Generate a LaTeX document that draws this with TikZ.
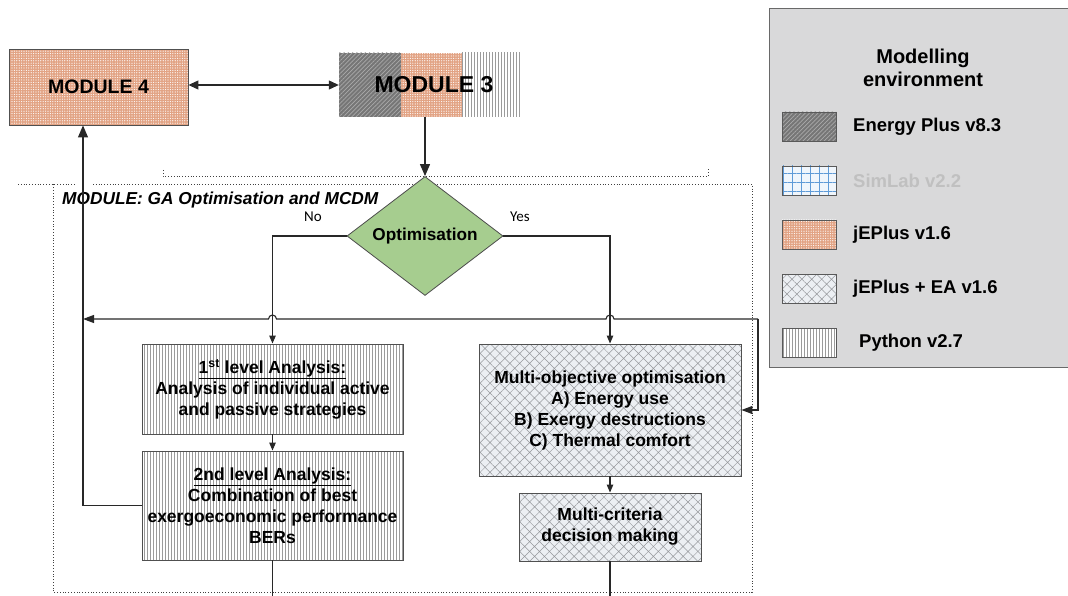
\documentclass[tikz,border=0pt]{standalone}
\usepackage{fontspec}
\setmainfont{Liberation Sans}
\newfontfamily\calibrifont{Carlito}
\usetikzlibrary{shapes.geometric,arrows.meta,patterns.meta,calc}
\definecolor{salmonc}{RGB}{226,163,132}
\definecolor{epc}{RGB}{118,118,118}
\definecolor{eplc}{RGB}{170,170,170}
\definecolor{pyc}{RGB}{155,155,155}
\definecolor{eac}{RGB}{236,239,243}
\definecolor{eal}{RGB}{150,152,156}
\definecolor{slc}{RGB}{240,246,252}
\definecolor{sll}{RGB}{95,155,215}
\definecolor{legbg}{RGB}{217,217,218}
\definecolor{legborder}{RGB}{105,105,105}
\definecolor{optgreen}{RGB}{166,205,143}
\definecolor{boxborder}{RGB}{80,80,80}
\definecolor{connc}{RGB}{40,40,40}
\definecolor{simlabtxt}{RGB}{192,192,192}
\begin{document}
\begin{tikzpicture}[x=1pt,y=-1pt,
  salmonfill/.style={preaction={fill=salmonc}, pattern={Dots[radius=0.6pt,distance=2.4pt]}, pattern color=white},
  epfill/.style={preaction={fill=epc}, pattern={Lines[angle=45,distance=3pt,line width=0.7pt]}, pattern color=eplc},
  pyfill/.style={preaction={fill=white}, pattern={Lines[angle=90,distance=3pt,line width=0.45pt]}, pattern color=pyc},
  eafill/.style={preaction={fill=eac}, pattern={Hatch[angle=45,distance=7pt,line width=0.5pt]}, pattern color=eal},
  slfill/.style={preaction={fill=slc}, pattern={Hatch[angle=0,distance=9pt,line width=0.6pt]}, pattern color=sll},
  box/.style={draw=boxborder, line width=0.9pt, inner sep=0pt, align=center, font=\bfseries\fontsize{17.5}{21}\selectfont},
  swatch/.style={draw=black!65, line width=0.8pt, minimum width=54pt, minimum height=29pt, inner sep=0pt},
  legtext/.style={anchor=west, inner sep=0pt, font=\bfseries\fontsize{18.5}{22}\selectfont},
  dotframe/.style={dotted, line width=0.8pt, black!75},
  conn/.style={draw=connc, line width=1.1pt},
  bigtip/.style={-{Triangle[length=12pt,width=10pt]}},
  midtip/.style={-{Triangle[length=11pt,width=8pt]}},
  smalltip/.style={-{Triangle[length=8pt,width=6.5pt]}},
  lbl/.style={inner sep=0pt, font=\calibrifont\fontsize{15}{17}\selectfont}
]
\useasboundingbox (0,0) rectangle (1068,596);

% legend
\fill[legbg] (769,9) rectangle (1068,367);
\draw[legborder, line width=1pt] (1068,9) -- (769,9) -- (769,367) -- (1068,367);
\node[align=center, inner sep=0pt, font=\bfseries\fontsize{20}{23}\selectfont] (legtitle) at (923,68) {Modelling\\environment};
\node[swatch, epfill] (sw1) at (809,126.5) {};
\node[legtext] (lt1) at (853,126.5) {Energy Plus v8.3};
\node[swatch, slfill] (sw2) at (809,180.5) {};
\node[legtext, text=simlabtxt] (lt2) at (853,180.5) {SimLab v2.2};
\node[swatch, salmonfill] (sw3) at (809,234.5) {};
\node[legtext] (lt3) at (853,234.5) {jEPlus v1.6};
\node[swatch, eafill] (sw4) at (809,288.5) {};
\node[legtext] (lt4) at (853,288.5) {jEPlus + EA v1.6};
\node[swatch, pyfill] (sw5) at (809,342.5) {};
\node[legtext] (lt5) at (859,342.5) {Python v2.7};

% dotted module frame
\draw[dotframe] (18,184) -- (75,184);
\draw[dotframe] (93,184) -- (752,184) -- (752,592) -- (53,592) -- (53,184);
\draw[dotframe] (163,170) -- (163,176) -- (708,176) -- (708,168);
\node[anchor=west, inner sep=0pt, font=\bfseries\itshape\fontsize{17.3}{20}\selectfont] (title) at (62,200) {MODULE: GA Optimisation and MCDM};

% module 4
\node[box, salmonfill, minimum width=179pt, minimum height=76pt, font=\bfseries\fontsize{19.5}{22}\selectfont] (mod4) at (98.5,87) {MODULE 4};

% module 3
\path[epfill] (339,53) rectangle (401,117);
\path[salmonfill] (401,53) rectangle (462,117);
\path[pyfill] (462,53) rectangle (521,117);
\node[minimum width=182pt, minimum height=64pt, inner sep=0pt, font=\bfseries\fontsize{23}{26}\selectfont] (mod3) at (430,85) {\hspace*{8pt}MODULE 3};

% decision
\node[diamond, aspect=1.31, draw=black!70, fill=optgreen, line width=0.8pt, minimum width=156pt, minimum height=119pt, inner sep=0pt, font=\bfseries\fontsize{17.2}{20}\selectfont] (opt) at (425,236) {Optimisation};
\node[lbl] (no) at (313,217) {No};
\node[lbl] (yes) at (520,217) {Yes};

% process boxes
\node[box, pyfill, minimum width=261pt, minimum height=90pt] (b1) at (272.5,389) {\underline{1\textsuperscript{st} level Analysis:}\\Analysis of individual active\\and passive strategies};
\node[box, pyfill, minimum width=261pt, minimum height=109pt] (b2) at (272.5,505.5) {\underline{2nd level Analysis:}\\Combination of best\\exergoeconomic performance\\BERs};
\node[box, eafill, minimum width=262pt, minimum height=132pt] (b3) at (610,410) {Multi-objective optimisation\\A) Energy use\\B) Exergy destructions\\C) Thermal comfort};
\node[box, eafill, minimum width=182pt, minimum height=68pt] (b4) at (610,527) {Multi-criteria\\decision making};

% coordinates
\coordinate (fbc) at (83,505.5);
\coordinate (j) at (758,319);
\coordinate (fb) at (83,319);
\coordinate (e2) at (272.5,600);
\coordinate (e4) at (610,600);

% connectors
\draw[conn, {Triangle[length=10pt,width=9pt]}-{Triangle[length=10pt,width=9pt]}] (mod4.east |- mod3.west) -- (mod3.west);
\draw[conn, bigtip] (mod3.south -| opt.north) -- (opt.north);
\draw[conn, smalltip] (opt.west) -| (b1.north);
\draw[conn, smalltip] (opt.east) -| (b3.north);
\draw[conn, smalltip] (b1.south) -- (b2.north);
\draw[conn, smalltip] (b3.south) -- (b4.north);
\draw[conn] (b2.south) -- (e2);
\draw[conn] (b4.south) -- (e4);
\draw[conn, bigtip] (b2.west) -- (fbc) -- (fbc |- mod4.south);
\draw[conn, midtip] (j) -- ($(j -| b3.north)+(4,0)$) arc[start angle=0, end angle=-180, radius=4] -- ($(j -| b1.north)+(4,0)$) arc[start angle=0, end angle=-180, radius=4] -- (fb);
\draw[conn, midtip] (j) -- (j |- b3.east) -- (b3.east);
\end{tikzpicture}
\end{document}
